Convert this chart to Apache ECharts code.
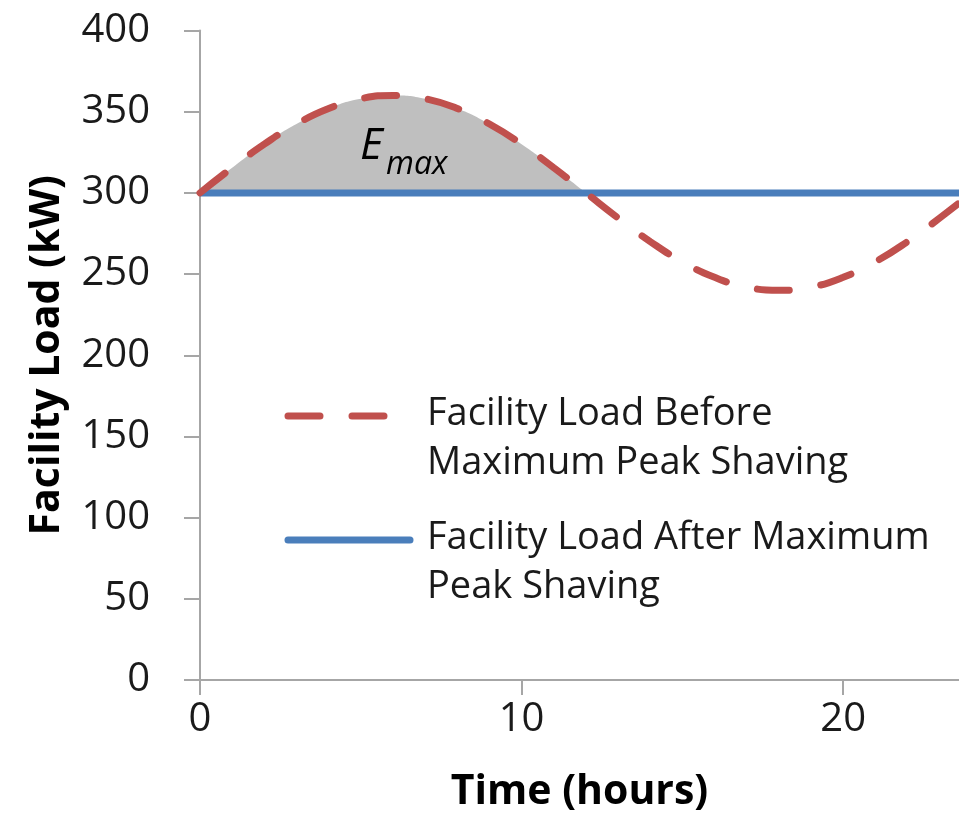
<!DOCTYPE html>
<html><head><meta charset="utf-8">
<script src="https://cdn.jsdelivr.net/npm/echarts@6/dist/echarts.min.js"></script>
<style>html,body{margin:0;padding:0;background:#fff}#c{width:959px;height:820px}</style>
</head><body><div id="c"></div>
<script>
// Data
const hours = [0,1,2,3,4,5,6,7,8,9,10,11,12,13,14,15,16,17,18,19,20,21,22,23,24];
const loadBefore = [300,315.5,330,342.4,352,358,360,358,352,342.4,330,315.5,300,284.5,270,257.6,248,242,240,242,248,257.6,270,284.5,300];
const loadAfter = [300,300,300,300,300,300,300,300,300,300,300,300,300,300,300,300,300,300,300,300,300,300,300,300,300];
const shadedHours = [0,1,2,3,4,5,6,7,8,9,10,11,12];
const shavingLevel = 300;
const yTicks = [0,50,100,150,200,250,300,350,400];
const xTicks = [0,10,20];
const xVisibleMax = 23.6;
const legendBefore = "Facility Load Before\nMaximum Peak Shaving";
const legendAfter = "Facility Load After Maximum\nPeak Shaving";

const FONT = "Open Sans";
const chart = echarts.init(document.getElementById('c'), null, {renderer:'canvas'});
const pairs = (xs, ys) => xs.map((x,i)=>[x, ys[i]]);
const shaded = shadedHours.map(h => [h, loadBefore[hours.indexOf(h)]]);

chart.setOption({
  animation:false,
  backgroundColor:'#fff',
  grid:{left:200, top:30.5, bottom:140, right:0, containLabel:false},
  xAxis:{
    type:'value', min:0, max:xVisibleMax, interval:10,
    name:'Time (hours)', nameLocation:'middle', nameGap:92,
    nameTextStyle:{fontFamily:FONT, fontWeight:'bold', fontSize:41, color:'#000'},
    axisLine:{lineStyle:{color:'#a6a6a6', width:2}},
    axisTick:{show:true, length:15, lineStyle:{color:'#a6a6a6', width:2}},
    axisLabel:{fontFamily:FONT, fontSize:40, color:'#1a1a1a', margin:20, showMaxLabel:false,
      formatter:v => xTicks.includes(v) ? String(v) : ''},
    splitLine:{show:false}
  },
  yAxis:{
    type:'value', min:0, max:400, interval:50,
    name:'Facility Load (kW)', nameLocation:'middle', nameGap:132, nameRotate:90,
    nameTextStyle:{fontFamily:FONT, fontWeight:'bold', fontSize:41, color:'#000'},
    axisLine:{show:true, lineStyle:{color:'#a6a6a6', width:2}},
    axisTick:{show:true, length:16, lineStyle:{color:'#a6a6a6', width:2}},
    axisLabel:{fontFamily:FONT, fontSize:40, color:'#1a1a1a', margin:50,
      formatter:v => yTicks.includes(v) ? String(v) : ''},
    splitLine:{show:false}
  },
  series:[
    {type:'line', data:shaded, smooth:true, symbol:'none', z:1,
     lineStyle:{width:0}, areaStyle:{color:'#bfbfbf', opacity:1, origin:shavingLevel}},
    {type:'line', data:pairs(hours, loadAfter), symbol:'none', z:3,
     lineStyle:{color:'#4a7ebb', width:7}},
    {type:'line', data:pairs(hours, loadBefore), smooth:true, symbol:'none', z:4,
     lineStyle:{color:'#c0504d', width:7, type:[32,32], cap:'round'}}
  ],
  graphic:[
    {type:'text', left:360, top:124, z:10, style:{text:'E', font:'italic 44px "Open Sans"', fill:'#000'}},
    {type:'text', left:386, top:149, z:10, style:{text:'max', font:'italic 32px "Open Sans"', fill:'#000'}},
    {type:'line', shape:{x1:288, y1:416, x2:386, y2:416}, style:{stroke:'#c0504d', lineWidth:7, lineDash:[32,32], lineCap:'round'}},
    {type:'text', left:427, top:390, style:{text:legendBefore, font:'38px "Open Sans"', lineHeight:49, fill:'#1a1a1a'}},
    {type:'line', shape:{x1:288, y1:540, x2:410, y2:540}, style:{stroke:'#4a7ebb', lineWidth:7, lineCap:'round'}},
    {type:'text', left:427, top:514, style:{text:legendAfter, font:'38px "Open Sans"', lineHeight:49, fill:'#1a1a1a'}}
  ]
});
</script></body></html>
